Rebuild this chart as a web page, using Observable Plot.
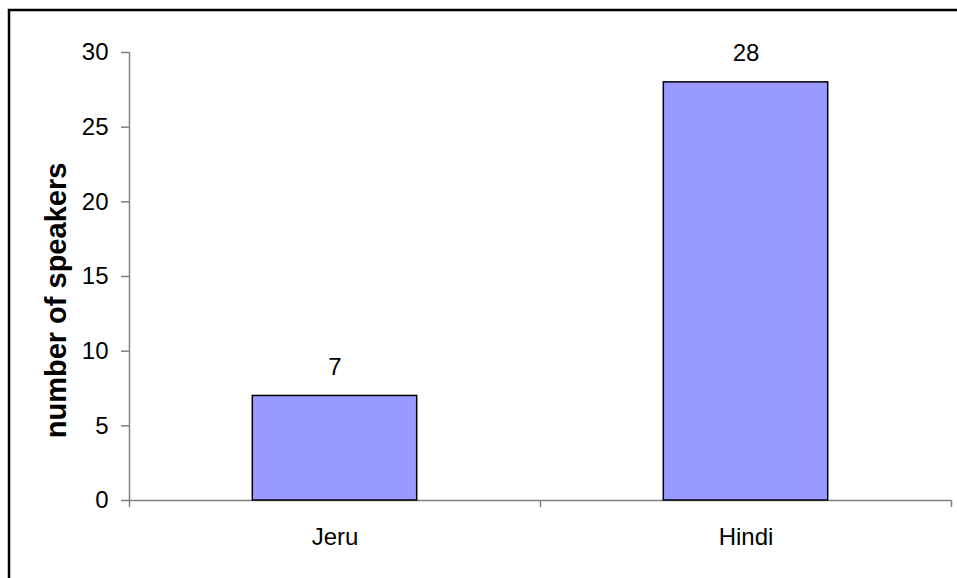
<!DOCTYPE html>
<html>
<head>
<meta charset="utf-8">
<script src="https://cdn.jsdelivr.net/npm/d3@7"></script>
<script src="https://cdn.jsdelivr.net/npm/@observablehq/plot@0.6"></script>
<style>
  html, body { margin: 0; padding: 0; background: #fff; }
</style>
</head>
<body>
<div id="chart"></div>
<script>
const categories = ["Jeru", "Hindi"];
const speakers = [7, 28];
const yTicks = [0, 5, 10, 15, 20, 25, 30];
const yLabel = "number of speakers";

const data = categories.map((c, i) => ({category: c, value: speakers[i], index: i}));
const boundaries = d3.range(categories.length + 1);

const plot = Plot.plot({
  width: 957,
  height: 578,
  marginLeft: 129,
  marginRight: 6,
  marginTop: 52,
  marginBottom: 78,
  style: {fontFamily: "'Liberation Sans', Arial, sans-serif", fontSize: "24px", color: "#000", background: "#fff"},
  x: {type: "linear", domain: [0, categories.length]},
  y: {type: "linear", domain: [0, 30]},
  marks: [
    Plot.ruleY([0], {stroke: "#808080", strokeWidth: 1.5}),
    Plot.ruleX([0], {y1: 0, y2: 30, stroke: "#808080", strokeWidth: 1.5}),
    Plot.axisY({
      ticks: yTicks, tickSize: 8, tickPadding: 13, stroke: "#808080", strokeWidth: 1.5,
      label: null, fill: "#000"
    }),
    Plot.axisX({
      ticks: boundaries, tickSize: 7, tickFormat: () => "", stroke: "#808080", strokeWidth: 1.5, label: null
    }),
    Plot.rectY(data, {
      x1: d => d.index + 0.3, x2: d => d.index + 0.7, y: "value",
      fill: "#9999FF", stroke: "#000", strokeWidth: 1.5
    }),
    Plot.text(data, {x: d => d.index + 0.5, y: "value", text: d => String(d.value), dy: -29, fill: "#000"}),
    Plot.text(data, {x: d => d.index + 0.5, y: 0, text: "category", dy: 37, fill: "#000"}),
    Plot.text([yLabel], {
      frameAnchor: "left", rotate: -90, dx: -73, dy: 24, text: d => d,
      textAnchor: "middle", fontWeight: "bold", fontSize: 29, lineAnchor: "middle", fill: "#000"
    })
  ]
});

const svg = d3.select(plot);
// outer chart frame (decorative)
svg.append("rect").attr("x", 9).attr("y", 10).attr("width", 960).attr("height", 580)
  .attr("fill", "none").attr("stroke", "#000").attr("stroke-width", 2.5);

document.getElementById("chart").appendChild(plot);
</script>
</body>
</html>
